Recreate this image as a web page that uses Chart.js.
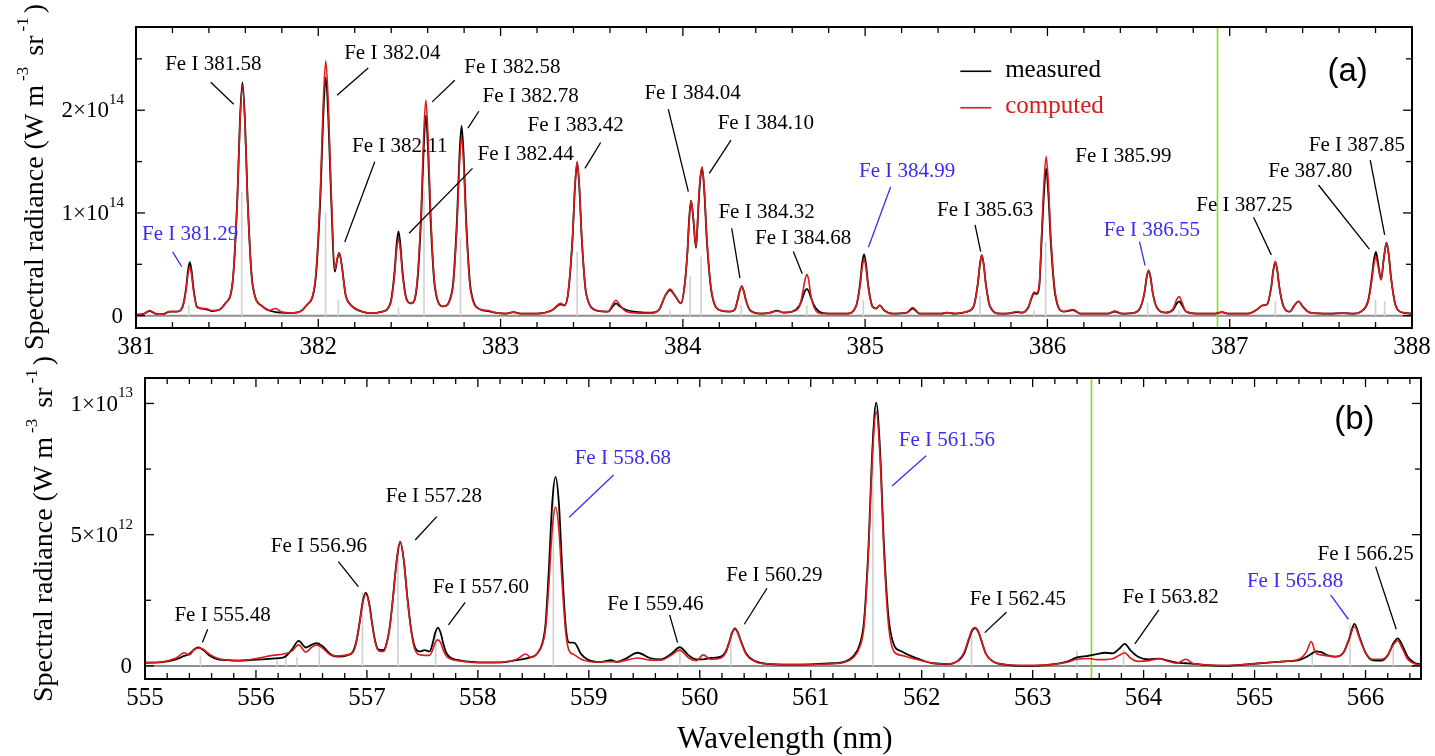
<!DOCTYPE html>
<html>
<head>
<meta charset="utf-8">
<title>Fe I emission spectra: measured vs computed</title>
<script src="https://cdn.jsdelivr.net/npm/chart.js@4.4.1/dist/chart.umd.min.js"></script>
<style>
  html, body { margin: 0; padding: 0; background: #fff; width: 1435px; height: 756px; overflow: hidden; }
  #wrap { position: relative; width: 1435px; height: 756px; }
  canvas { position: absolute; left: 0; }
  #panelA { top: 0; }
  #panelB { top: 356px; }
</style>
</head>
<body>
<div id="wrap">
  <canvas id="panelA" width="1435" height="370"></canvas>
  <canvas id="panelB" width="1435" height="400"></canvas>
</div>
<script>
// ---------------- Panel (a): 381-388 nm, radiance in units of 1e14 W m^-3 sr^-1 ----------------
const wavelengthA = [
  381.000, 381.040, 381.075, 381.110, 381.150, 381.185,
  381.225, 381.255, 381.275, 381.285, 381.295, 381.305, 381.315, 381.335,
  381.380, 381.415, 381.455, 381.490,
  381.529, 381.556, 381.570, 381.584, 381.598, 381.612, 381.639, 381.694,
  381.730, 381.765, 381.800, 381.850, 381.900, 381.935,
  381.983, 382.012, 382.027, 382.041, 382.055, 382.070, 382.091, 382.104, 382.115, 382.128, 382.150, 382.170, 382.200, 382.240, 382.290,
  382.350, 382.395, 382.418, 382.429, 382.440, 382.451, 382.462, 382.485, 382.510,
  382.540, 382.565, 382.578, 382.590, 382.602, 382.615, 382.640,
  382.685, 382.736, 382.761, 382.774, 382.786, 382.798, 382.811, 382.836, 382.890, 382.930, 382.970,
  383.030, 383.070, 383.110, 383.200, 383.280, 383.330, 383.350, 383.370, 383.395, 383.408, 383.420, 383.432, 383.445, 383.470, 383.530,
  383.590, 383.615, 383.633, 383.655, 383.690, 383.760, 383.830,
  383.870, 383.905, 383.930, 383.955, 383.990, 384.010, 384.025, 384.035, 384.045, 384.057, 384.072, 384.085, 384.095, 384.106, 384.118, 384.132, 384.160, 384.210, 384.260,
  384.285, 384.300, 384.312, 384.323, 384.334, 384.346, 384.370, 384.430, 384.480, 384.517, 384.550,
  384.600, 384.640, 384.660, 384.670, 384.680, 384.690, 384.700, 384.720, 384.760, 384.820,
  384.900, 384.950, 384.972, 384.983, 384.994, 385.005, 385.016, 385.040, 385.060, 385.080, 385.105, 385.150,
  385.230, 385.260, 385.300, 385.420, 385.450, 385.490, 385.560,
  385.595, 385.618, 385.629, 385.640, 385.651, 385.662, 385.685, 385.740, 385.800, 385.830, 385.860,
  385.895, 385.915, 385.927, 385.940, 385.955, 385.968, 385.981, 385.993, 386.005, 386.018, 386.043, 386.090, 386.140, 386.180,
  386.330, 386.370, 386.410, 386.480, 386.510, 386.533, 386.544, 386.555, 386.566, 386.577, 386.600, 386.650, 386.690, 386.710, 386.723, 386.736, 386.760, 386.820,
  386.920, 386.957, 386.990, 387.100, 387.150, 387.180, 387.205, 387.228, 387.239, 387.250, 387.261, 387.272, 387.295, 387.330, 387.355, 387.378, 387.400, 387.440, 387.550, 387.620, 387.680,
  387.720, 387.760, 387.780, 387.791, 387.802, 387.815, 387.830, 387.845, 387.860, 387.872, 387.885, 387.910, 387.950, 388.000
];
const measuredA = [
  0.010, 0.015, 0.045, 0.018, 0.015, 0.040,
  0.040, 0.085, 0.270, 0.435, 0.520, 0.435, 0.270, 0.085,
  0.065, 0.045, 0.055, 0.120,
  0.310, 1.145, 1.890, 2.270, 1.890, 1.145, 0.310, 0.090,
  0.050, 0.035, 0.030, 0.025, 0.040, 0.100,
  0.320, 1.170, 1.930, 2.320, 1.930, 1.170, 0.430, 0.550, 0.610, 0.500, 0.200, 0.120, 0.070, 0.040, 0.025,
  0.040, 0.120, 0.420, 0.680, 0.820, 0.680, 0.430, 0.160, 0.120,
  0.270, 0.980, 1.620, 1.950, 1.620, 0.980, 0.270,
  0.090, 0.260, 0.940, 1.540, 1.850, 1.540, 0.940, 0.260, 0.060, 0.045, 0.030,
  0.020, 0.035, 0.020, 0.020, 0.050, 0.110, 0.100, 0.210, 0.760, 1.250, 1.490, 1.250, 0.760, 0.210, 0.050,
  0.040, 0.090, 0.120, 0.090, 0.055, 0.035, 0.030,
  0.060, 0.200, 0.250, 0.200, 0.120, 0.300, 0.620, 0.950, 1.120, 0.950, 0.660, 1.050, 1.320, 1.430, 1.200, 0.720, 0.200, 0.050, 0.040,
  0.060, 0.150, 0.240, 0.280, 0.240, 0.150, 0.050, 0.020, 0.030, 0.050, 0.030,
  0.040, 0.100, 0.190, 0.240, 0.260, 0.240, 0.190, 0.100, 0.030, 0.020,
  0.020, 0.090, 0.310, 0.500, 0.600, 0.500, 0.310, 0.090, 0.070, 0.100, 0.050, 0.020,
  0.030, 0.070, 0.020, 0.020, 0.030, 0.020, 0.040,
  0.090, 0.310, 0.490, 0.590, 0.490, 0.310, 0.090, 0.020, 0.025, 0.035, 0.030,
  0.080, 0.180, 0.220, 0.210, 0.280, 0.730, 1.190, 1.430, 1.190, 0.730, 0.200, 0.040, 0.055, 0.020,
  0.020, 0.040, 0.020, 0.030, 0.080, 0.230, 0.370, 0.440, 0.370, 0.230, 0.080, 0.030, 0.060, 0.120, 0.140, 0.110, 0.040, 0.020,
  0.020, 0.035, 0.020, 0.020, 0.060, 0.100, 0.110, 0.280, 0.440, 0.520, 0.440, 0.280, 0.090, 0.040, 0.100, 0.140, 0.090, 0.030, 0.020, 0.025, 0.020,
  0.040, 0.150, 0.380, 0.540, 0.620, 0.500, 0.350, 0.550, 0.710, 0.600, 0.370, 0.100, 0.030, 0.020
];
const computedA = [
  0.010, 0.018, 0.050, 0.020, 0.015, 0.040,
  0.040, 0.080, 0.250, 0.400, 0.475, 0.400, 0.250, 0.080,
  0.070, 0.050, 0.055, 0.120,
  0.310, 1.130, 1.860, 2.240, 1.860, 1.130, 0.310, 0.090,
  0.050, 0.070, 0.035, 0.025, 0.040, 0.100,
  0.340, 1.250, 2.060, 2.480, 2.060, 1.250, 0.450, 0.560, 0.610, 0.500, 0.200, 0.120, 0.075, 0.040, 0.025,
  0.040, 0.110, 0.385, 0.630, 0.750, 0.630, 0.400, 0.150, 0.120,
  0.290, 1.060, 1.750, 2.100, 1.750, 1.060, 0.290,
  0.090, 0.240, 0.880, 1.450, 1.740, 1.450, 0.880, 0.240, 0.060, 0.050, 0.030,
  0.020, 0.035, 0.020, 0.020, 0.050, 0.120, 0.100, 0.210, 0.770, 1.260, 1.500, 1.260, 0.770, 0.210, 0.050,
  0.040, 0.110, 0.150, 0.100, 0.040, 0.025, 0.025,
  0.060, 0.200, 0.260, 0.200, 0.120, 0.300, 0.620, 0.950, 1.120, 0.960, 0.670, 1.070, 1.340, 1.450, 1.220, 0.740, 0.210, 0.050, 0.040,
  0.060, 0.150, 0.240, 0.290, 0.240, 0.150, 0.050, 0.020, 0.030, 0.045, 0.030,
  0.040, 0.090, 0.250, 0.350, 0.400, 0.350, 0.220, 0.080, 0.020, 0.020,
  0.020, 0.090, 0.290, 0.460, 0.550, 0.460, 0.290, 0.090, 0.070, 0.100, 0.050, 0.020,
  0.030, 0.080, 0.020, 0.020, 0.030, 0.020, 0.040,
  0.090, 0.310, 0.490, 0.590, 0.490, 0.310, 0.090, 0.020, 0.025, 0.040, 0.030,
  0.080, 0.190, 0.230, 0.220, 0.300, 0.790, 1.290, 1.550, 1.290, 0.790, 0.220, 0.040, 0.060, 0.020,
  0.020, 0.045, 0.020, 0.030, 0.080, 0.230, 0.370, 0.440, 0.370, 0.230, 0.080, 0.030, 0.070, 0.160, 0.185, 0.140, 0.040, 0.020,
  0.020, 0.035, 0.020, 0.020, 0.060, 0.100, 0.110, 0.280, 0.440, 0.530, 0.440, 0.280, 0.090, 0.040, 0.100, 0.140, 0.090, 0.030, 0.020, 0.025, 0.020,
  0.040, 0.140, 0.350, 0.500, 0.570, 0.470, 0.350, 0.550, 0.710, 0.600, 0.370, 0.100, 0.030, 0.020
];
// Line positions (nm) and relative strengths drawn as grey sticks
const lineWavelengthA = [381.29, 381.58, 382.04, 382.11, 382.44, 382.58, 382.78, 383.42, 383.93, 384.04, 384.10, 384.32, 384.68, 384.99, 385.63, 385.927, 385.99, 386.55, 386.723, 387.25, 387.80, 387.85];
const lineStrengthA   = [0.10,   1.20,   1.00,   0.15,   0.08,   1.22,   0.75,   0.62,   0.05,   0.38,   0.57,   0.10,   0.10,   0.15,   0.19,   0.05,    0.72,   0.12,   0.05,    0.14,   0.15,   0.14];
const markerA = 386.933;

// ---------------- Panel (b): 555-566.5 nm, radiance in units of 1e12 W m^-3 sr^-1 ----------------
const wavelengthB = [
  555.000, 555.150, 555.280, 555.354, 555.400, 555.440, 555.483, 555.520, 555.580, 555.660, 555.750,
  555.850, 555.950, 556.050, 556.150, 556.250, 556.320, 556.385, 556.450, 556.500, 556.546, 556.600, 556.680, 556.750, 556.820, 556.875, 556.903,
  556.932, 556.961, 556.990, 557.019, 557.048, 557.077, 557.105, 557.150, 557.170, 557.203, 557.235, 557.268, 557.300, 557.333, 557.365, 557.398, 557.430,
  557.475, 557.520, 557.565, 557.590, 557.615, 557.640, 557.665, 557.690, 557.715, 557.760, 557.850, 557.950, 558.050,
  558.200, 558.350, 558.430, 558.480, 558.530, 558.580, 558.610, 558.640, 558.670, 558.700, 558.730, 558.760, 558.790, 558.820, 558.870, 558.930, 559.000, 559.100,
  559.200, 559.250, 559.320, 559.440, 559.550, 559.650, 559.740, 559.820, 559.900, 559.970, 560.030, 560.100,
  560.190, 560.240, 560.270, 560.295, 560.317, 560.340, 560.370, 560.420, 560.500, 560.600, 560.800, 561.000, 561.200,
  561.300, 561.380, 561.440, 561.480, 561.520, 561.555, 561.590, 561.625, 561.660, 561.700, 561.750, 561.820, 561.900, 562.000, 562.100,
  562.250, 562.330, 562.380, 562.425, 562.450, 562.480, 562.510, 562.535, 562.580, 562.650, 562.750, 562.900, 563.100,
  563.300, 563.400, 563.500, 563.580, 563.650, 563.720, 563.780, 563.830, 563.880, 563.950, 564.050, 564.140, 564.220, 564.300, 564.380, 564.450, 564.520,
  564.600, 564.750, 564.900, 565.050, 565.200, 565.300, 565.400, 565.470, 565.510, 565.550, 565.600, 565.660, 565.730, 565.800, 565.850, 565.900, 565.950, 566.000, 566.060, 566.140, 566.200, 566.250, 566.290, 566.330, 566.380, 566.440, 566.500
];
const measuredB = [
  0.12, 0.14, 0.25, 0.38, 0.45, 0.62, 0.70, 0.62, 0.40, 0.25, 0.22,
  0.20, 0.22, 0.25, 0.28, 0.32, 0.60, 0.95, 0.70, 0.80, 0.87, 0.75, 0.42, 0.35, 0.40, 0.55, 0.90,
  1.60, 2.42, 2.79, 2.42, 1.60, 0.90, 0.62, 0.60, 0.75, 1.40, 2.60, 4.00, 4.73, 4.00, 2.60, 1.40, 0.75,
  0.55, 0.60, 0.55, 0.82, 1.25, 1.46, 1.25, 0.82, 0.50, 0.30, 0.20, 0.15, 0.13,
  0.13, 0.22, 0.28, 0.33, 0.45, 0.85, 1.60, 3.70, 6.20, 7.20, 6.20, 3.70, 1.60, 0.90, 0.88, 0.45, 0.22, 0.15,
  0.22, 0.15, 0.25, 0.50, 0.30, 0.25, 0.45, 0.71, 0.40, 0.25, 0.25, 0.30,
  0.35, 0.60, 0.98, 1.30, 1.43, 1.30, 0.95, 0.45, 0.18, 0.08, 0.05, 0.06, 0.10,
  0.15, 0.35, 0.80, 1.70, 4.50, 8.20, 10.03, 8.20, 4.60, 1.90, 0.80, 0.55, 0.38, 0.22, 0.10,
  0.07, 0.20, 0.45, 1.00, 1.30, 1.44, 1.30, 1.00, 0.45, 0.15, 0.05, 0.00, 0.02,
  0.15, 0.32, 0.38, 0.45, 0.50, 0.48, 0.65, 0.84, 0.60, 0.35, 0.25, 0.28, 0.20, 0.12, 0.10, 0.08, 0.05,
  0.02, 0.00, 0.05, 0.10, 0.15, 0.18, 0.22, 0.35, 0.45, 0.55, 0.52, 0.40, 0.35, 0.50, 1.00, 1.60, 1.05, 0.50, 0.22, 0.20, 0.40, 0.85, 1.05, 0.80, 0.35, 0.12, 0.06
];
const computedB = [
  0.12, 0.15, 0.30, 0.50, 0.42, 0.60, 0.68, 0.64, 0.45, 0.28, 0.22,
  0.20, 0.24, 0.32, 0.40, 0.45, 0.55, 0.80, 0.52, 0.70, 0.80, 0.68, 0.40, 0.38, 0.42, 0.52, 0.86,
  1.55, 2.36, 2.74, 2.36, 1.55, 0.86, 0.58, 0.55, 0.72, 1.38, 2.58, 4.00, 4.73, 4.00, 2.55, 1.35, 0.65,
  0.42, 0.40, 0.40, 0.58, 0.88, 0.99, 0.88, 0.58, 0.38, 0.25, 0.18, 0.13, 0.12,
  0.13, 0.25, 0.45, 0.32, 0.45, 0.80, 1.40, 3.10, 5.20, 6.05, 5.20, 3.10, 1.35, 0.60, 0.42, 0.25, 0.17, 0.15,
  0.16, 0.15, 0.20, 0.30, 0.22, 0.22, 0.40, 0.60, 0.30, 0.20, 0.42, 0.25,
  0.30, 0.55, 0.95, 1.28, 1.40, 1.28, 0.93, 0.42, 0.16, 0.08, 0.05, 0.05, 0.08,
  0.13, 0.30, 0.70, 1.50, 4.30, 7.90, 9.69, 7.90, 4.30, 1.60, 0.55, 0.40, 0.30, 0.20, 0.10,
  0.07, 0.22, 0.50, 1.05, 1.35, 1.46, 1.32, 1.02, 0.45, 0.15, 0.05, 0.02, 0.03,
  0.13, 0.25, 0.28, 0.24, 0.24, 0.27, 0.40, 0.50, 0.30, 0.17, 0.20, 0.27, 0.18, 0.10, 0.25, 0.08, 0.05,
  0.03, 0.02, 0.05, 0.10, 0.15, 0.18, 0.25, 0.55, 0.93, 0.50, 0.42, 0.38, 0.35, 0.50, 0.98, 1.50, 1.00, 0.50, 0.25, 0.25, 0.40, 0.80, 0.96, 0.68, 0.25, 0.08, 0.05
];
const lineWavelengthB = [555.50, 556.19, 556.27, 556.37, 556.57, 556.96, 557.28, 557.62, 558.68, 559.82, 560.28, 561.56, 562.45, 563.40, 563.82, 565.52, 565.86, 566.25];
const lineStrengthB   = [0.37,   0.30,   0.40,   0.33,   0.90,   2.80,   4.60,   1.30,   6.90,   0.57,   1.30,   9.00,   1.24,   0.55,   0.60,   0.50,   1.55,   0.90];
const markerB = 563.53;

// Line identifications: label centre and leader line, both in data units (nm, radiance)
const labelsA = [
  { text: 'Fe I 381.29', blue: true, at: [381.297, 0.786], lead: [381.201, 0.621, 381.251, 0.476] },
  { text: 'Fe I 381.58', at: [381.424, 2.443], lead: [381.410, 2.272, 381.536, 2.058] },
  { text: 'Fe I 382.04', at: [382.406, 2.556], lead: [382.274, 2.411, 382.103, 2.146] },
  { text: 'Fe I 382.58', at: [383.065, 2.420], lead: [382.749, 2.291, 382.625, 2.081] },
  { text: 'Fe I 382.78', at: [383.165, 2.129], lead: [382.881, 1.990, 382.821, 1.825] },
  { text: 'Fe I 382.11', at: [382.447, 1.644], lead: [382.310, 1.498, 382.145, 0.716] },
  { text: 'Fe I 382.44', at: [383.138, 1.573], lead: [382.846, 1.434, 382.498, 0.803] },
  { text: 'Fe I 383.42', at: [383.412, 1.848], lead: [383.549, 1.686, 383.463, 1.434] },
  { text: 'Fe I 384.04', at: [384.053, 2.162], lead: [383.920, 2.010, 384.030, 1.207] },
  { text: 'Fe I 384.10', at: [384.455, 1.871], lead: [384.264, 1.709, 384.145, 1.385] },
  { text: 'Fe I 384.32', at: [384.459, 1.007], lead: [384.268, 0.851, 384.313, 0.366] },
  { text: 'Fe I 384.68', at: [384.660, 0.754], lead: [384.606, 0.624, 384.655, 0.408] },
  { text: 'Fe I 384.99', blue: true, at: [385.230, 1.408], lead: [385.140, 1.255, 385.018, 0.667] },
  { text: 'Fe I 385.63', at: [385.658, 1.022], lead: [385.603, 0.883, 385.634, 0.624] },
  { text: 'Fe I 385.99', at: [386.417, 1.547] },
  { text: 'Fe I 386.55', blue: true, at: [386.573, 0.828], lead: [386.505, 0.721, 386.536, 0.488] },
  { text: 'Fe I 387.25', at: [387.081, 1.068], lead: [387.131, 0.958, 387.228, 0.592] },
  { text: 'Fe 387.80',   at: [387.442, 1.408], lead: [387.487, 1.272, 387.766, 0.647] },
  { text: 'Fe I 387.85', at: [387.698, 1.660], lead: [387.771, 1.515, 387.850, 0.786] }
];
const labelsB = [
  { text: 'Fe I 555.48', at: [555.699, 1.904], lead: [555.565, 1.397, 555.517, 0.888] },
  { text: 'Fe I 556.96', at: [556.567, 4.544], lead: [556.743, 3.972, 556.923, 3.020] },
  { text: 'Fe I 557.28', at: [557.603, 6.447], lead: [557.630, 5.686, 557.435, 4.798] },
  { text: 'Fe I 557.60', at: [558.028, 2.983], lead: [557.886, 2.424, 557.735, 1.561] },
  { text: 'Fe I 558.68', blue: true, at: [559.306, 7.907], lead: [559.223, 7.273, 558.823, 5.662] },
  { text: 'Fe I 559.46', at: [559.600, 2.348], lead: [559.728, 1.942, 559.800, 0.888] },
  { text: 'Fe I 560.29', at: [560.673, 3.440], lead: [560.606, 2.958, 560.401, 1.587] },
  { text: 'Fe I 561.56', blue: true, at: [562.227, 8.606], lead: [562.040, 8.008, 561.733, 6.855] },
  { text: 'Fe I 562.45', at: [562.867, 2.513], lead: [562.764, 2.044, 562.568, 1.268] },
  { text: 'Fe I 563.82', at: [564.243, 2.602], lead: [564.137, 2.133, 563.921, 0.838] },
  { text: 'Fe I 565.88', blue: true, at: [565.365, 3.211], lead: [565.685, 2.704, 565.845, 1.777] },
  { text: 'Fe I 566.25', at: [566.001, 4.252], lead: [566.091, 3.782, 566.277, 1.397] }
];

// ---------------- Drawing helpers ----------------
const SERIF = '"Liberation Serif", "Times New Roman", serif';
const SANS = '"Liberation Sans", Arial, sans-serif';
const RED = '#d91c1c';
const BLUE = '#3b2df0';

function toPoints(xs, ys) { return xs.map((x, i) => ({ x: x, y: ys[i] })); }
function isMultiple(v, step) { const r = v / step; return Math.abs(r - Math.round(r)) < 1e-6; }

function line(ctx, x1, y1, x2, y2) { ctx.beginPath(); ctx.moveTo(x1, y1); ctx.lineTo(x2, y2); ctx.stroke(); }

// "m×10^e" tick label, right aligned at x, vertically centred at y
function drawSciLabel(ctx, value, unitExp, x, y) {
  ctx.fillStyle = '#000';
  ctx.textBaseline = 'middle';
  if (Math.abs(value) < 1e-9) {
    ctx.font = '23px ' + SERIF; ctx.textAlign = 'right';
    ctx.fillText('0', x, y + 1);
    return;
  }
  const real = value * Math.pow(10, unitExp);
  const e = Math.floor(Math.log10(real) + 1e-9);
  const m = Math.round(real / Math.pow(10, e));
  const base = m + '\u00d710', sup = String(e);
  ctx.textAlign = 'left';
  ctx.font = '15px ' + SERIF; const wSup = ctx.measureText(sup).width;
  ctx.font = '23px ' + SERIF; const wBase = ctx.measureText(base).width;
  ctx.fillText(base, x - wSup - wBase + 1, y + 1);
  ctx.font = '15px ' + SERIF;
  ctx.fillText(sup, x - wSup + 1, y - 10);
}

// Rotated y-axis title with superscript exponents
function drawYTitle(ctx, x, cy) {
  const parts = [
    { t: 'Spectral radiance (W m', sup: false },
    { t: '-3', sup: true },
    { t: ' sr', sup: false },
    { t: '-1', sup: true },
    { t: ')', sup: false }
  ];
  const big = '28px ' + SERIF, small = '17px ' + SERIF, gap = 4;
  ctx.save();
  ctx.translate(x, cy);
  ctx.rotate(-Math.PI / 2);
  ctx.fillStyle = '#000'; ctx.textAlign = 'left'; ctx.textBaseline = 'alphabetic';
  let total = 0;
  parts.forEach(p => { ctx.font = p.sup ? small : big; p.w = ctx.measureText(p.t).width + (p.sup ? 2 * gap : 0); total += p.w; });
  let cx = -total / 2;
  parts.forEach(p => {
    ctx.font = p.sup ? small : big;
    ctx.fillText(p.t, cx + (p.sup ? gap : 0), p.sup ? -15 : 0);
    cx += p.w;
  });
  ctx.restore();
}

function decorPlugin(cfg) {
  return {
    id: 'decor' + cfg.key,
    beforeDatasetsDraw(chart) {
      const { ctx, chartArea: a, scales: { x, y } } = chart;
      ctx.save();
      const y0 = y.getPixelForValue(0);
      ctx.strokeStyle = '#8e8e8e'; ctx.lineWidth = 2;
      line(ctx, a.left, y0, a.right, y0);
      const xm = x.getPixelForValue(cfg.marker);
      ctx.strokeStyle = '#7be21a'; ctx.lineWidth = 1.6;
      line(ctx, xm, a.top, xm, a.bottom);
      ctx.restore();
    },
    afterDatasetsDraw(chart) {
      const { ctx, chartArea: a, scales: { x, y } } = chart;
      ctx.save();
      // frame
      ctx.strokeStyle = '#000'; ctx.lineWidth = 2;
      ctx.strokeRect(a.left, a.top, a.right - a.left, a.bottom - a.top);
      // inward ticks on all four sides, integer wavelengths labelled below
      ctx.lineWidth = 1.3;
      x.ticks.forEach(t => {
        const px = x.getPixelForValue(t.value);
        const major = isMultiple(t.value, 1);
        const L = major ? 9 : 6;
        line(ctx, px, a.bottom, px, a.bottom - L);
        line(ctx, px, a.top, px, a.top + L);
        if (major) {
          ctx.fillStyle = '#000'; ctx.font = '25px ' + SERIF;
          ctx.textAlign = 'center'; ctx.textBaseline = 'middle';
          ctx.fillText(String(Math.round(t.value)), px, a.bottom + cfg.xLabelDy);
        }
      });
      y.ticks.forEach(t => {
        if (t.value < y.min || t.value > y.max) return;
        const py = y.getPixelForValue(t.value);
        const major = isMultiple(t.value, cfg.yMajor);
        const L = major ? 9 : 6;
        line(ctx, a.left, py, a.left + L, py);
        line(ctx, a.right, py, a.right - L, py);
        if (major) drawSciLabel(ctx, t.value, cfg.unitExp, a.left - 13, py);
      });
      // line identifications
      ctx.font = '21px ' + SERIF; ctx.textAlign = 'center'; ctx.textBaseline = 'middle';
      cfg.labels.forEach(lb => {
        const col = lb.blue ? BLUE : '#000';
        ctx.fillStyle = col; ctx.strokeStyle = col; ctx.lineWidth = 1.3;
        ctx.fillText(lb.text, x.getPixelForValue(lb.at[0]), y.getPixelForValue(lb.at[1]));
        if (lb.lead) {
          line(ctx, x.getPixelForValue(lb.lead[0]), y.getPixelForValue(lb.lead[1]),
                    x.getPixelForValue(lb.lead[2]), y.getPixelForValue(lb.lead[3]));
        }
      });
      // legend
      if (cfg.legend) {
        const lg = cfg.legend;
        ctx.font = '25px ' + SERIF; ctx.textAlign = 'left'; ctx.textBaseline = 'middle';
        lg.rows.forEach(r => {
          const ds = chart.data.datasets[r.dataset];
          const yy = y.getPixelForValue(r.y);
          ctx.strokeStyle = ds.borderColor; ctx.lineWidth = 1.6;
          line(ctx, x.getPixelForValue(lg.x0), yy, x.getPixelForValue(lg.x1), yy);
          ctx.fillStyle = ds.borderColor;
          ctx.fillText(ds.label, x.getPixelForValue(lg.tx), yy - 1);
        });
      }
      // panel letter
      ctx.fillStyle = '#000'; ctx.font = '33px ' + SANS; ctx.textAlign = 'center'; ctx.textBaseline = 'middle';
      ctx.fillText(cfg.letter.text, x.getPixelForValue(cfg.letter.at[0]), y.getPixelForValue(cfg.letter.at[1]));
      // axis titles
      drawYTitle(ctx, cfg.yTitle.x, cfg.yTitle.cy);
      if (cfg.xTitle) {
        ctx.fillStyle = '#000'; ctx.font = '31px ' + SERIF; ctx.textAlign = 'center'; ctx.textBaseline = 'middle';
        ctx.fillText(cfg.xTitle.text, (a.left + a.right) / 2 + cfg.xTitle.dx, cfg.xTitle.y);
      }
      ctx.restore();
    }
  };
}

function buildPanel(canvasId, cfg) {
  return new Chart(document.getElementById(canvasId), {
    type: 'line',
    data: {
      datasets: [
        { label: 'computed', data: toPoints(cfg.wl, cfg.computed), borderColor: RED, borderWidth: 1.6,
          pointRadius: 0, cubicInterpolationMode: 'monotone', fill: false, order: 0 },
        { label: 'measured', data: toPoints(cfg.wl, cfg.measured), borderColor: '#000000', borderWidth: 1.8,
          pointRadius: 0, cubicInterpolationMode: 'monotone', fill: false, order: 1 },
        { type: 'bar', label: 'lines', data: toPoints(cfg.lineWl, cfg.lineStrength),
          backgroundColor: '#d2d2d2', barThickness: 1, order: 2 }
      ]
    },
    options: {
      responsive: false,
      animation: false,
      devicePixelRatio: 1,
      layout: { padding: { top: cfg.padTop, right: cfg.padRight, left: 0, bottom: 0 } },
      plugins: { legend: { display: false }, tooltip: { enabled: false } },
      scales: {
        x: {
          type: 'linear', min: cfg.xMin, max: cfg.xMax, offset: false,
          grid: { display: false }, border: { display: false },
          ticks: { display: false, stepSize: 0.2, autoSkip: false, includeBounds: false, maxTicksLimit: 200 },
          afterFit: s => { s.height = cfg.xAxisH; }
        },
        y: {
          type: 'linear', min: cfg.yMin, max: cfg.yMax,
          grid: { display: false }, border: { display: false },
          ticks: { display: false, stepSize: cfg.yStep, includeBounds: false, maxTicksLimit: 100 },
          afterFit: s => { s.width = cfg.yAxisW; }
        }
      }
    },
    plugins: [decorPlugin(cfg)]
  });
}

buildPanel('panelA', {
  key: 'A', wl: wavelengthA, measured: measuredA, computed: computedA,
  lineWl: lineWavelengthA, lineStrength: lineStrengthA, marker: markerA,
  xMin: 381, xMax: 388, yMin: -0.12, yMax: 2.81, yStep: 0.5, yMajor: 1, unitExp: 14,
  padTop: 27, padRight: 23, yAxisW: 136, xAxisH: 42, xLabelDy: 19,
  labels: labelsA,
  legend: { x0: 385.522, x1: 385.692, tx: 385.768, rows: [ { dataset: 1, y: 2.379 }, { dataset: 0, y: 2.024 } ] },
  letter: { text: '(a)', at: [387.647, 2.369] },
  yTitle: { x: 43, cy: 177 }
});

buildPanel('panelB', {
  key: 'B', wl: wavelengthB, measured: measuredB, computed: computedB,
  lineWl: lineWavelengthB, lineStrength: lineStrengthB, marker: markerB,
  xMin: 555, xMax: 566.5, yMin: -0.5, yMax: 10.97, yStep: 2.5, yMajor: 5, unitExp: 12,
  padTop: 22, padRight: 14, yAxisW: 145, xAxisH: 77, xLabelDy: 19,
  labels: labelsB,
  letter: { text: '(b)', at: [565.90, 9.37] },
  yTitle: { x: 52, cy: 173 },
  xTitle: { text: 'Wavelength (nm)', dx: 2, y: 384 }
});
</script>
</body>
</html>
